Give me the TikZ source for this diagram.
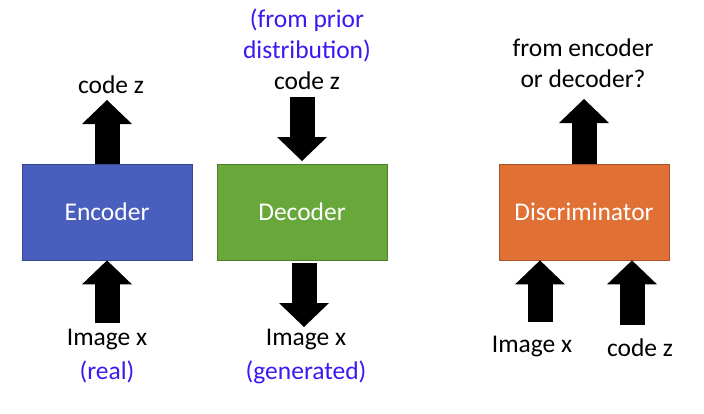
\documentclass[tikz,border=0pt]{standalone}
\usepackage{fontspec}
\setmainfont{Carlito}
\usetikzlibrary{arrows.meta}
\definecolor{encblue}{RGB}{74,95,189}
\definecolor{decgreen}{RGB}{104,168,58}
\definecolor{disorange}{RGB}{224,112,52}
\definecolor{noteblue}{RGB}{58,26,240}
\tikzset{
  box/.style={minimum width=170pt,minimum height=96pt,draw=#1!75!black,fill=#1,
    line width=.8pt,text=white,inner sep=0pt},
  lbl/.style={align=center,inner sep=0pt},
  fat/.style={line width=25pt,-{Triangle[length=24pt,width=50pt,line width=0pt]}}
}
\begin{document}
\begin{tikzpicture}[x=1pt,y=-1pt,font=\fontsize{25.5}{31}\selectfont]
        \useasboundingbox (0,0) rectangle (704,413);
        % boxes
        \node[box=encblue] (enc) at (107,212) {Encoder};
        \node[box=decgreen] (dec) at (302,212) {Decoder};
        \node[box=disorange] (dis) at (584,212) {Discriminator};
        % labels
        \node[lbl] (encz) at (111,85) {code z};
        \node[lbl] (encimg) at (107,340) {Image x};
        \node[lbl,text=noteblue] (encreal) at (107,372) {(real)};
        \node[lbl,text=noteblue] (decprior) at (307,35) {(from prior\\distribution)};
        \node[lbl] (decz) at (307,81) {code z};
        \node[lbl] (decimg) at (306,340) {Image x};
        \node[lbl,text=noteblue] (decgen) at (306,372) {(generated)};
        \node[lbl] (disq) at (583,63.5) {from encoder\\or decoder?};
        \node[lbl] (disimg) at (532,347) {Image x};
        \node[lbl] (disz) at (640,348) {code z};
        % arrow ends
        \coordinate (enctop) at (107,100);
        \coordinate (encbot) at (107,323);
        \coordinate (dectop) at (302,97);
        \coordinate (decin) at (302,161);
        \coordinate (decout) at (304,263);
        \coordinate (decbot) at (304,327);
        \coordinate (distop) at (584,99);
        \coordinate (disleft) at (540,322);
        \coordinate (disright) at (632,325);
        % arrows
        \draw[fat] (enc.north) -- (enctop);
        \draw[fat] (encbot) -- (enc.south);
        \draw[fat] (dectop) -- (decin);
        \draw[fat] (decout) -- (decbot);
        \draw[fat] (dis.north) -- (distop);
        \draw[fat] (disleft) -- (disleft|-dis.south);
        \draw[fat] (disright) -- (disright|-dis.south);
\end{tikzpicture}
\end{document}
